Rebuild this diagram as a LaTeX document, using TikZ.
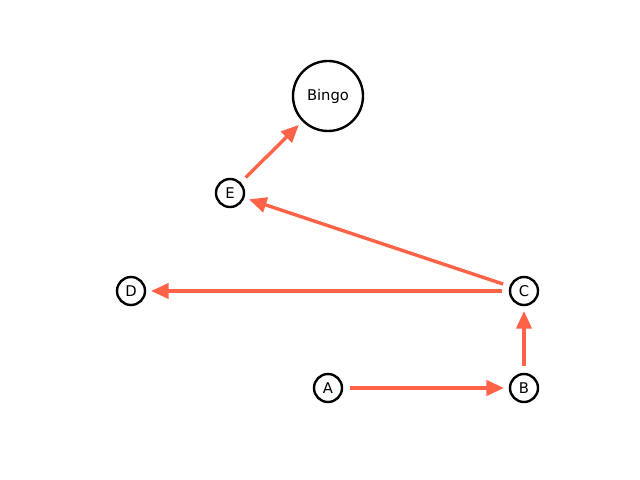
\documentclass[tikz,border=0pt]{standalone}
\usepackage{fontspec}
\setmainfont{DejaVu Sans}
\usetikzlibrary{arrows.meta}
\tikzset{
  vertex/.style={circle,draw=black,line width=1.7pt,fill=white,inner sep=0pt,minimum size=0.7cm,font=\fontsize{10.5}{12}\selectfont},
  goal/.style={vertex,minimum size=1.75cm},
  edge/.style={draw={rgb,255:red,255;green,99;blue,71},line width=2.4pt,-{Triangle[length=0.44cm,width=0.38cm]},shorten <=0.17cm,shorten >=0.12cm}
}
\begin{document}
\begin{tikzpicture}[x=0.025cm,y=-0.025cm]
            \useasboundingbox (0,0) rectangle (640,480);
            \node[vertex] (A) at (328,388) {A};
            \node[vertex] (B) at (524,388) {B};
            \node[vertex] (C) at (524,291) {C};
            \node[vertex] (D) at (131,291) {D};
            \node[vertex] (E) at (230,193) {E};
            \node[goal] (Bingo) at (328,96) {Bingo};
            \draw[edge] (A)--(B);
            \draw[edge] (B)--(C);
            \draw[edge] (C)--(D);
            \draw[edge] (C)--(E);
            \draw[edge] (E)--(Bingo);
        \end{tikzpicture}
\end{document}
